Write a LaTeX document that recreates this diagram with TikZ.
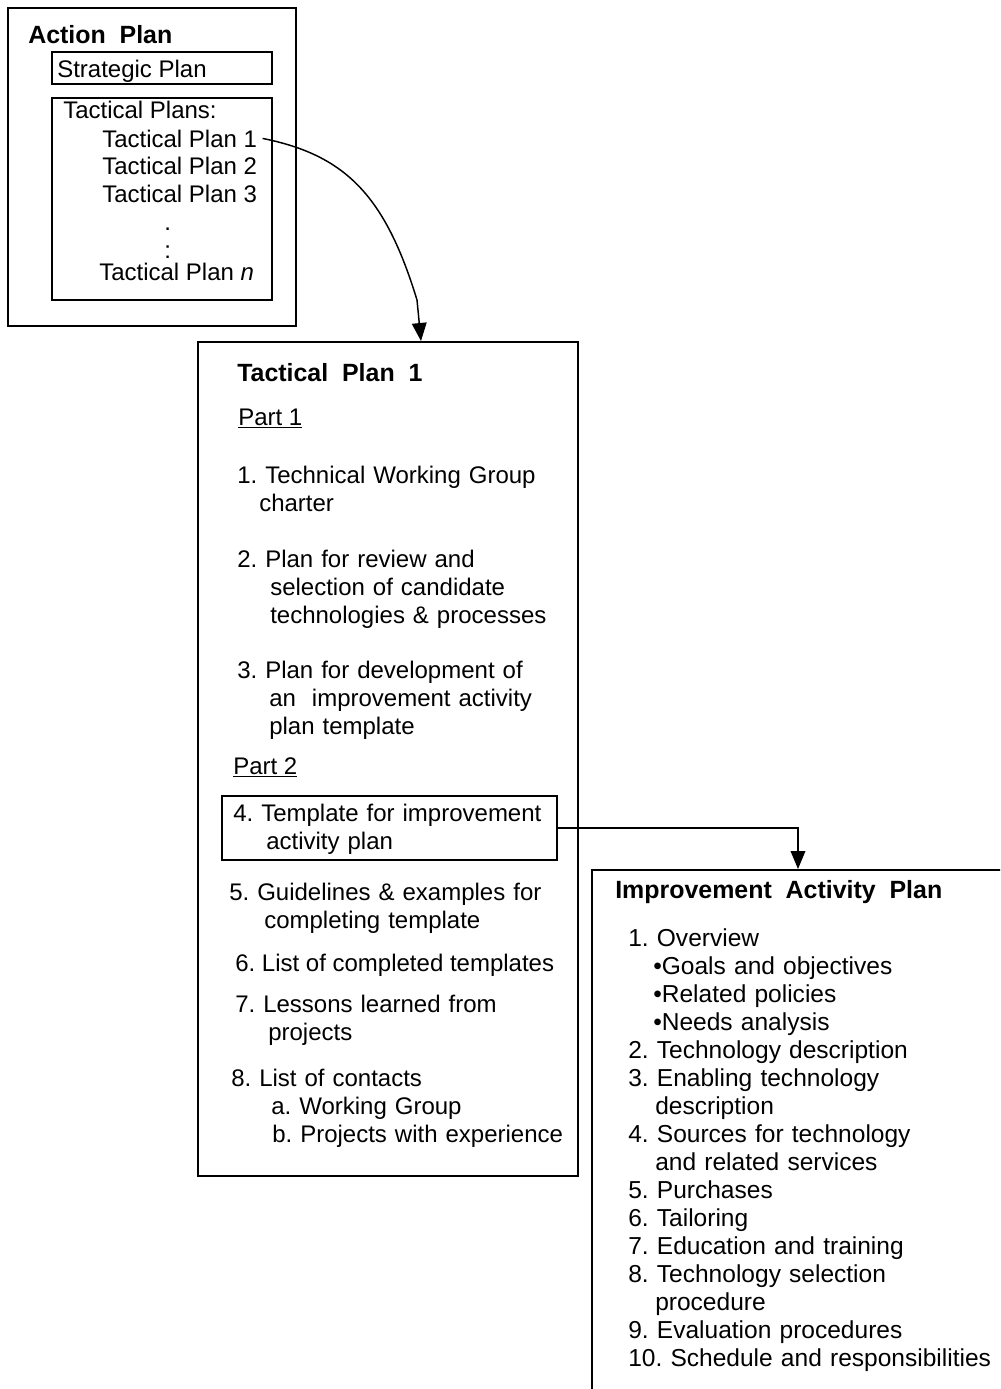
\documentclass[tikz,border=0pt]{standalone}
\usepackage{fontspec}
\setmainfont{Liberation Sans}
\usetikzlibrary{arrows.meta,fit}
\newdimen\pxu \pxu=0.75pt
\newcommand\ind[1]{\hspace*{#1\pxu}}
\frenchspacing

\begin{document}
\begin{tikzpicture}[x=0.75pt,y=-0.75pt,
  frame/.style={draw, line width=1.5pt, inner sep=0pt},
  inbox/.style={draw, line width=1.4pt, inner sep=0pt},
  txt/.style={anchor=base west, inner sep=0pt, font=\fontsize{18}{21}\selectfont\frenchspacing},
  blk/.style={txt, text width=330pt, align=left},
  head/.style={txt, font=\fontsize{18.7}{21}\selectfont\bfseries},
  conn/.style={line width=1.1pt, -{Triangle[length=13.5pt,width=11pt]}}
]
\useasboundingbox (0,0) rectangle (1000,1389);
\begin{scope}
\clip (0,0) rectangle (1000,1389);

% Action plan
\node[frame, fit={(8,8)(296,326)}] (ap) {};
\node[head] (aptitle) at (28,43) {Action\ \ Plan};
\node[inbox, fit={(52,52)(272,84)}] (spbox) {};
\node[txt] (sp) at (57,77) {Strategic Plan};
\node[inbox, fit={(52,98)(272,300)}] (tpsbox) {};
\node[txt] (tps) at (63,118) {Tactical Plans:};
\node[txt] (tp1) at (102,147) {Tactical Plan 1};
\node[txt] (tp2) at (102,174) {Tactical Plan 2};
\node[txt] (tp3) at (102,202) {Tactical Plan 3};
\node[txt] (dota) at (164,230) {.};
\node[txt] (dotb) at (164,258) {:};
\node[txt] (tpn) at (99,280) {Tactical Plan \textit{n}};

% Tactical plan 1
\node[frame, fit={(198,342)(578,1176)}] (tpbox) {};
\node[head] (tptitle) at (237,381) {Tactical\ \ Plan\ \ 1};
\node[txt] (part1) at (238,425) {\underline{Part 1}};
\node[blk] (item1) at (237,483) {1. Technical Working Group\\\ind{22}charter};
\node[blk] (item2) at (237,567) {2. Plan for review and\\\ind{33}selection of candidate\\\ind{33}technologies \& processes};
\node[blk] (item3) at (237,678) {3. Plan for development of\\\ind{32}an\ \ improvement activity\\\ind{32}plan template};
\node[txt] (part2) at (233,774) {\underline{Part 2}};
\node[inbox, fit={(222,796)(557,860)}] (box4) {};
\node[blk] (item4) at (233,821) {4. Template for improvement\\\ind{33}activity plan};
\node[blk] (item5) at (229,900) {5. Guidelines \& examples for\\\ind{35}completing template};
\node[txt] (item6) at (235,971) {6. List of completed templates};
\node[blk] (item7) at (235,1012) {7. Lessons learned from\\\ind{33}projects};
\node[blk] (item8) at (231,1086) {8. List of contacts\\\ind{40}a. Working Group\\\ind{41}b. Projects with experience};

% Improvement activity plan
\node[frame, fit={(592,870)(1040,1420)}] (iap) {};
\node[head] (iaptitle) at (615,898) {Improvement\ \ Activity\ \ Plan};
\node[blk, font=\fontsize{18.4}{21}\selectfont\frenchspacing] (iaplist) at (628,946) {1. Overview\\
\ind{25}•Goals and objectives\\
\ind{25}•Related policies\\
\ind{25}•Needs analysis\\
2. Technology description\\
3. Enabling technology\\
\ind{27}description\\
4. Sources for technology\\
\ind{27}and related services\\
5. Purchases\\
6. Tailoring\\
7. Education and training\\
8. Technology selection\\
\ind{27}procedure\\
9. Evaluation procedures\\
10. Schedule and responsibilities};

% Connectors
\coordinate (c1) at (421,0);
\coordinate (c2) at (798,0);
\draw[conn] ([xshift=4pt]tp1.east) .. controls (345,155) and (385,195) .. (417,300) -- (tpbox.north -| c1);
\draw[conn] (box4.east) -| (iap.north -| c2);
\end{scope}
\end{tikzpicture}
\end{document}
